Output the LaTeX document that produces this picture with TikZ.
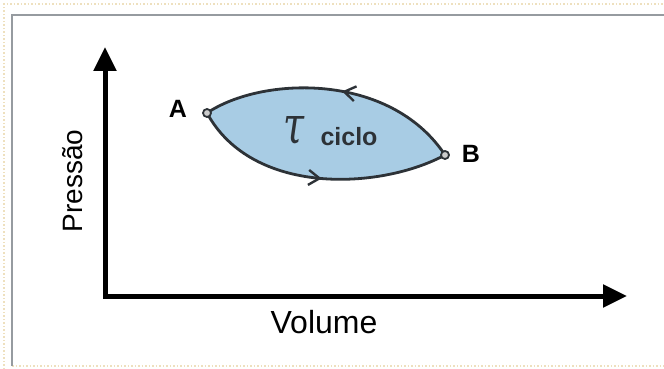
\documentclass[tikz,border=0pt]{standalone}
\usepackage{fontspec}
\setmainfont{Liberation Sans}
\newfontfamily\taufont{DejaVu Serif}
\usetikzlibrary{arrows.meta,decorations.markings}
\definecolor{cyclefill}{RGB}{168,204,228}
\definecolor{curvecol}{RGB}{45,50,55}
\definecolor{framegray}{RGB}{150,155,160}
\definecolor{beige}{RGB}{238,224,190}
\tikzset{
  axis/.style={line width=5pt,line join=miter,{Triangle[length=24pt,width=22pt]}-{Triangle[length=24pt,width=22pt]}},
  curve/.style={line width=2.8pt,draw=curvecol},
  midarrow/.style={postaction={decorate},decoration={markings,mark=at position #1 with {\arrow[curvecol,line width=2.4pt]{Straight Barb[length=11pt,width=15pt]}}}},
  pt/.style={circle,draw=curvecol,fill=gray!40,line width=1.8pt,inner sep=0pt,minimum size=8pt},
  lbl/.style={font=\bfseries\fontsize{25}{25}\selectfont,inner sep=0pt}
}
\begin{document}
\begin{tikzpicture}[x=1pt,y=-1pt]
\useasboundingbox (0,0) rectangle (664,369);
% frame
\draw[beige,dotted,line width=1.5pt] (4,369) -- (4,4) -- (664,4);
\draw[beige,dotted,line width=1.5pt] (12,366) -- (664,366);
\draw[framegray,line width=1.8pt] (12,366) -- (12,15) -- (664,15);
% axes
\coordinate (O) at (105,296);
\coordinate (ytip) at (105,47);
\coordinate (xtip) at (627,296);
\draw[axis] (ytip) -- (O) -- (xtip);
\node[font=\fontsize{32}{32}\selectfont,inner sep=0pt] (vol) at (324,322) {Volume};
\node[font=\fontsize{28}{28}\selectfont,inner sep=0pt,rotate=90] (pres) at (73,181) {Pressão};
% cycle
\coordinate (pA) at (207,113);
\coordinate (pB) at (445,155);
\fill[cyclefill] (pA) .. controls (262,76) and (390,72) .. (pB) .. controls (380,190) and (252,196) .. (pA) -- cycle;
\draw[curve,midarrow=0.47] (pB) .. controls (390,72) and (262,76) .. (pA);
\draw[curve,midarrow=0.52] (pA) .. controls (252,196) and (380,190) .. (pB);
\node[pt] (A) at (pA) {};
\node[pt] (B) at (pB) {};
\node[lbl] (la) at (178,108.5) {A};
\node[lbl] (lb) at (471,153.5) {B};
\node[inner sep=0pt,text=curvecol] (tau) at (294,131) {\resizebox{21pt}{27pt}{\taufont\itshape τ}};
\node[lbl,text=curvecol] (ciclo) at (349,137) {ciclo};
\end{tikzpicture}
\end{document}
